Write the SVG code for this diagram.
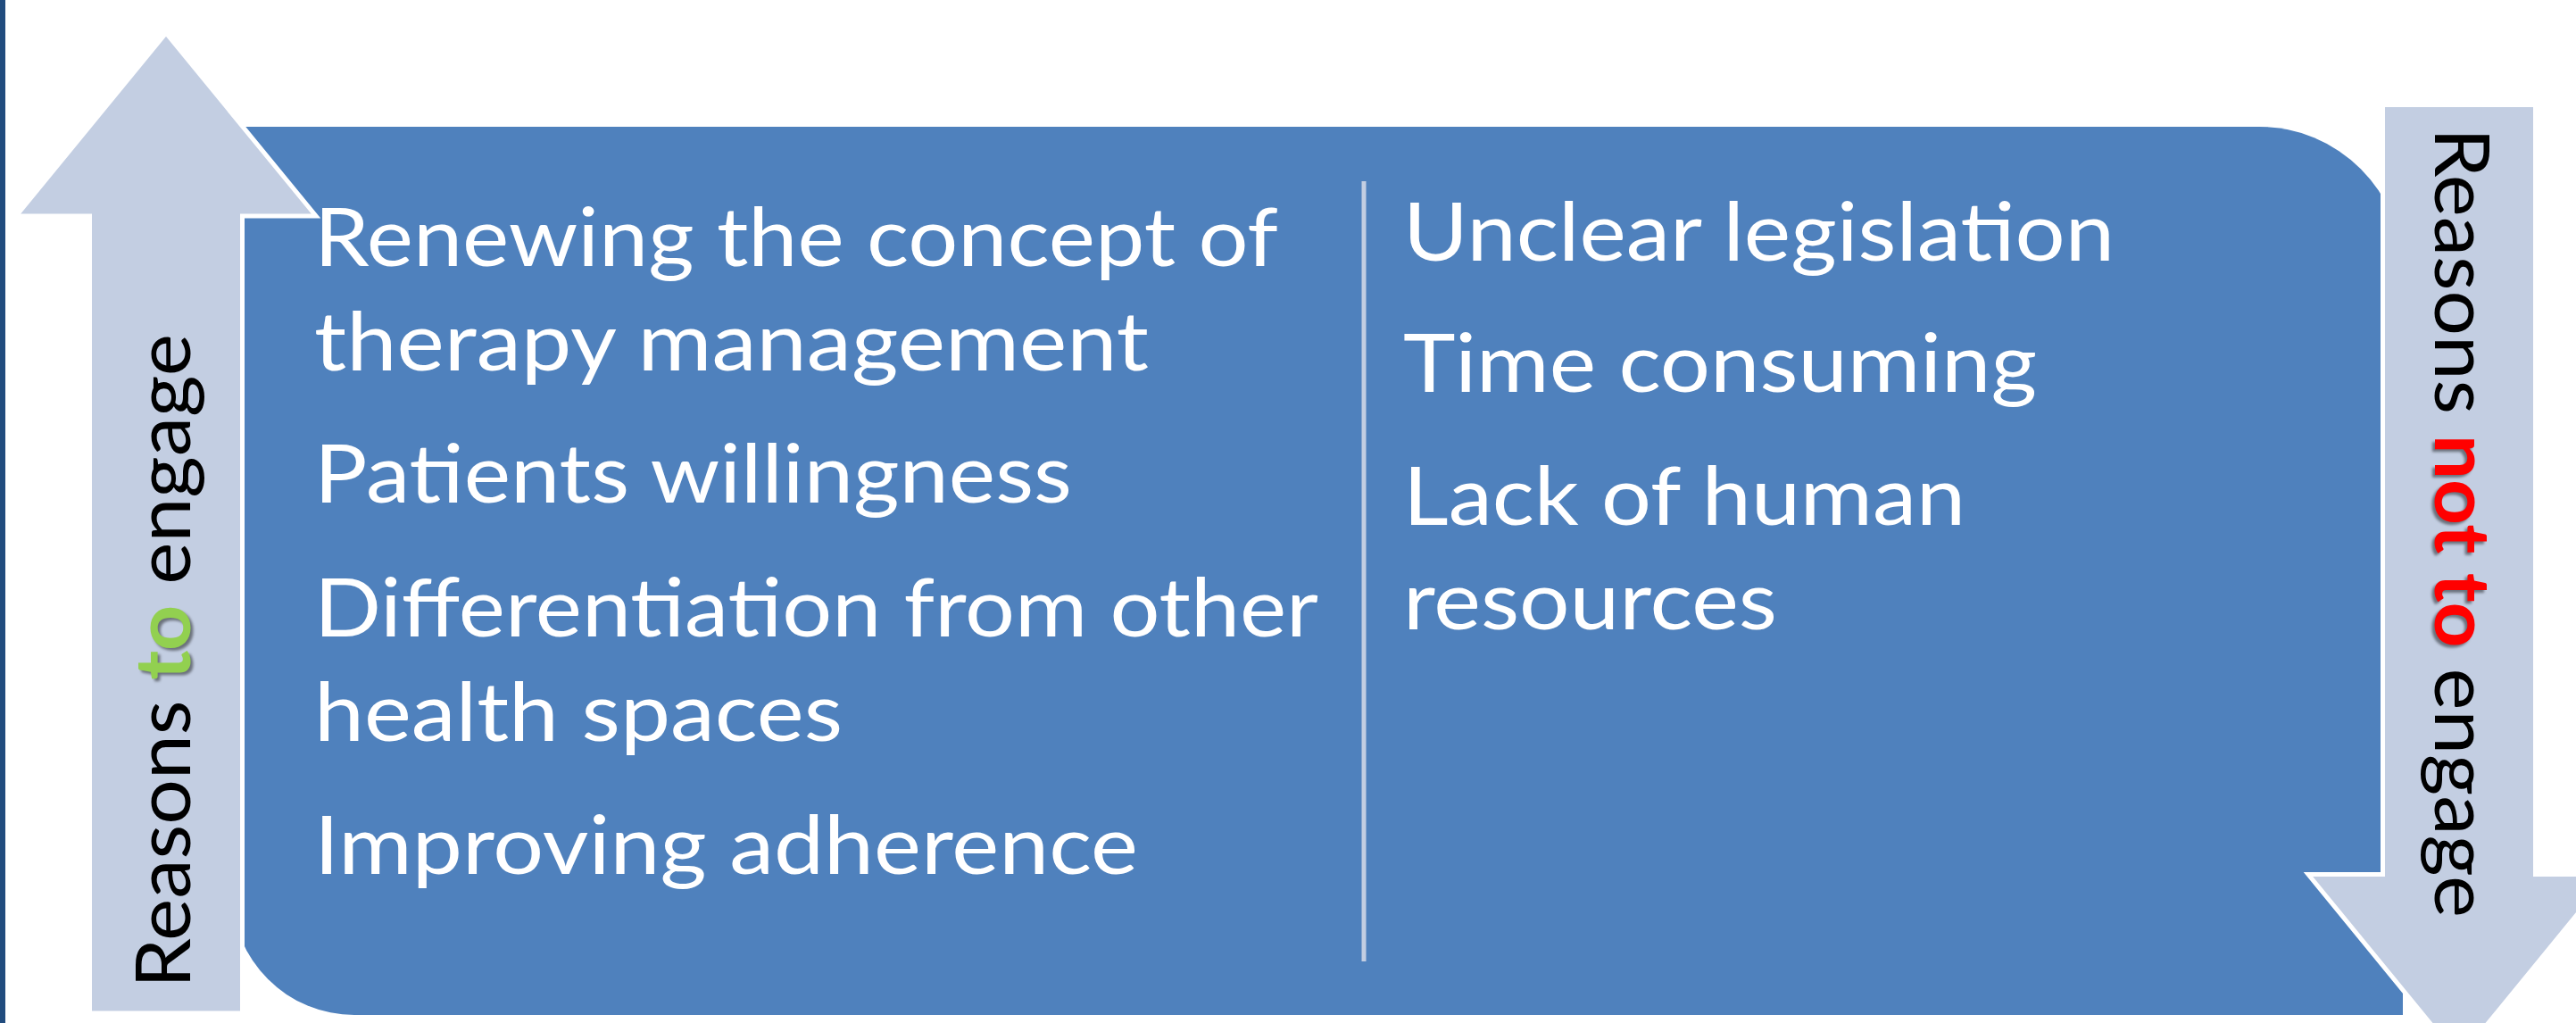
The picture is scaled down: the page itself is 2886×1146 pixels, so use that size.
<svg xmlns="http://www.w3.org/2000/svg" width="2886" height="1146" viewBox="0 0 2886 1146">
  <style>
    .item { font-family: Lato, "Open Sans", "Liberation Sans", sans-serif; font-size: 91px; fill: #ffffff; }
    .label { font-family: Lato, "Open Sans", "Liberation Sans", sans-serif; font-size: 86px; fill: #000000; }
    .arrow { fill: #c3cee2; stroke: #ffffff; stroke-width: 5; stroke-linejoin: miter; }
    .hl { font-weight: bold; }
  </style>
  <defs>
    <filter id="soft" x="-20%" y="-20%" width="140%" height="140%">
      <feGaussianBlur stdDeviation="1.6"/>
    </filter>
  </defs>
  <rect x="0" y="0" width="2886" height="1146" fill="#ffffff"/>
  <rect x="0" y="0" width="6" height="1146" fill="#214c7e"/>

  <g id="panel">
    <path d="M 260 142 H 2531 A 161 161 0 0 1 2692 303 V 1137 H 397 A 137 137 0 0 1 260 1000 Z" fill="#4f81bd"/>
    <rect x="1525.5" y="203" width="5" height="874" fill="#c3cee2"/>
  </g>

  <g id="arrow-up">
    <polygon class="arrow" points="186,37 354,242 271.5,242 271.5,1135 100.5,1135 100.5,242 18,242"/>
    <g transform="translate(213,1107) rotate(-90)">
      <text class="label" x="-3" y="3" textLength="733" lengthAdjust="spacingAndGlyphs" filter="url(#soft)"><tspan fill="none">Reasons </tspan><tspan class="hl" fill="#000000" fill-opacity="0.45">to</tspan><tspan fill="none"> engage</tspan></text>
      <text class="label" x="0" y="0" textLength="733" lengthAdjust="spacingAndGlyphs">Reasons <tspan class="hl" fill="#92d050">to</tspan> engage</text>
    </g>
  </g>

  <g id="arrow-down">
    <polygon class="arrow" points="2669.5,117.5 2840.5,117.5 2840.5,979.5 2924,979.5 2755,1186 2586,979.5 2669.5,979.5"/>
    <g transform="translate(2728,143) rotate(90)">
      <text class="label" x="3" y="3" textLength="885" lengthAdjust="spacingAndGlyphs" filter="url(#soft)"><tspan fill="none">Reasons </tspan><tspan class="hl" fill="#000000" fill-opacity="0.45">not to</tspan><tspan fill="none"> engage</tspan></text>
      <text class="label" x="0" y="0" textLength="885" lengthAdjust="spacingAndGlyphs">Reasons <tspan class="hl" fill="#ff0000">not to</tspan> engage</text>
    </g>
  </g>

  <g id="reasons-to">
    <text class="item" x="352" y="298" textLength="1080" lengthAdjust="spacingAndGlyphs">Renewing the concept of</text>
    <text class="item" x="352" y="415" textLength="935" lengthAdjust="spacingAndGlyphs">therapy management</text>
    <text class="item" x="352" y="563" textLength="849" lengthAdjust="spacingAndGlyphs">Patients willingness</text>
    <text class="item" x="352" y="713" textLength="1125" lengthAdjust="spacingAndGlyphs">Differentiation from other</text>
    <text class="item" x="352" y="830" textLength="592" lengthAdjust="spacingAndGlyphs">health spaces</text>
    <text class="item" x="352" y="979" textLength="923" lengthAdjust="spacingAndGlyphs">Improving adherence</text>
  </g>

  <g id="reasons-not-to">
    <text class="item" x="1572" y="292" textLength="797" lengthAdjust="spacingAndGlyphs">Unclear legislation</text>
    <text class="item" x="1572" y="439" textLength="710" lengthAdjust="spacingAndGlyphs">Time consuming</text>
    <text class="item" x="1572" y="588" textLength="630" lengthAdjust="spacingAndGlyphs">Lack of human</text>
    <text class="item" x="1572" y="705" textLength="419" lengthAdjust="spacingAndGlyphs">resources</text>
  </g>
</svg>
